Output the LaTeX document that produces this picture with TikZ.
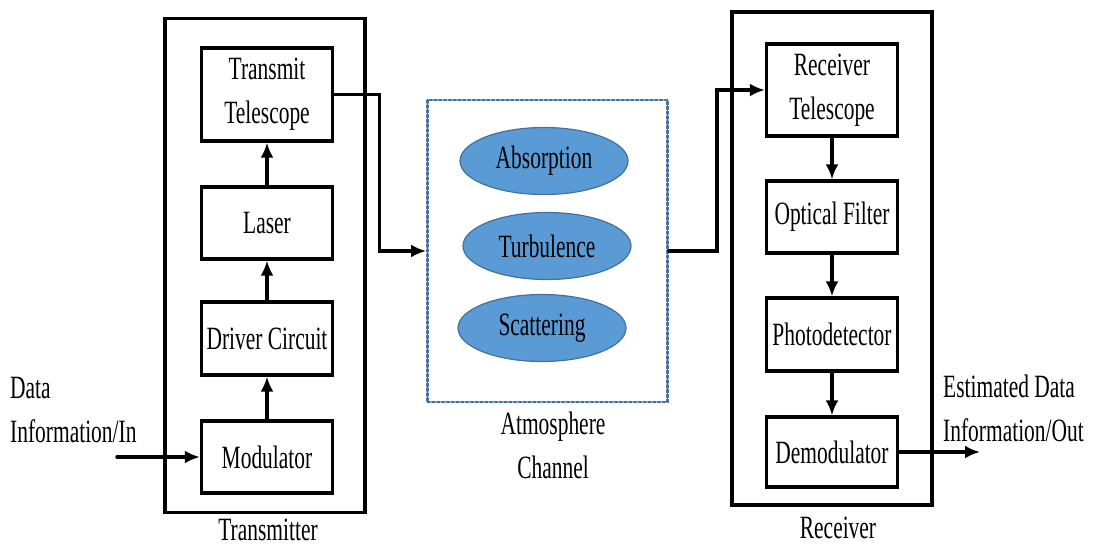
\documentclass[tikz,border=0pt]{standalone}
\usepackage{fontspec}
\setmainfont{Liberation Serif}[FakeStretch=0.66]
\usetikzlibrary{arrows.meta,shapes.geometric}
\definecolor{effectfill}{HTML}{5B9BD5}
\definecolor{effectedge}{HTML}{41719C}
\tikzset{
  block/.style={draw, line width=3.3pt, minimum width=131pt, minimum height=72pt, align=center, inner sep=2pt},
  frame/.style={draw, line width=3.3pt},
  effect/.style={ellipse, draw=effectedge, line width=1.2pt, fill=effectfill, minimum width=168pt, minimum height=67pt},
  caption/.style={align=left, inner sep=0pt}
}
\begin{document}
\begin{tikzpicture}[x=1pt, y=-1pt, line cap=round, >={Latex[length=15pt,width=13pt]},
  font=\fontsize{32.5}{44}\selectfont]
  \useasboundingbox (0,0) rectangle (1100,547);
  \node[frame, minimum width=200pt, minimum height=494pt] (tx) at (265,265.5) {};
  \node[frame, minimum width=200pt, minimum height=493pt] (rx) at (832,258.5) {};
  \node[draw=effectedge, line width=2.8pt, dash pattern=on 2.5pt off 2.3pt,
    minimum width=240pt, minimum height=302pt] (chan) at (547.5,251) {};
  \node[block, minimum height=93pt] (tel) at (267,94.5) {Transmit\\Telescope};
  \node[block] (laser) at (267,223) {Laser};
  \node[block, minimum height=73pt] (driver) at (267,338.5) {Driver Circuit};
  \node[block] (mod) at (267,457) {Modulator};
  \node[block, minimum height=92pt] (rtel) at (832,90) {Receiver\\Telescope};
  \node[block] (filter) at (832,217) {Optical Filter};
  \node[block, minimum height=73pt] (photo) at (832,334.5) {Photodetector};
  \node[block, minimum height=70pt] (demod) at (832,452) {Demodulator};
  \node[effect] (absorb) at (544,161) {Absorption};
  \node[effect] (turb) at (547,246) {Turbulence};
  \node[effect] (scatter) at (542,328) {Scattering};
  \node[caption] (txlabel) at (268,530) {Transmitter};
  \node[caption] (rxlabel) at (838,528) {Receiver};
  \node[align=center, inner sep=0pt] (chanlabel) at (553,445) {Atmosphere\\Channel};
  \node[caption, anchor=west] (inlabel) at (10,410) {Data\\Information/In};
  \node[caption, anchor=west] (outlabel) at (943,408) {Estimated Data\\Information/Out};
  \coordinate (in) at (117,457);
  \coordinate (out) at (980,452);
  \draw[line width=3.3pt, ->] (in) -- (mod.west);
  \draw[line width=3.3pt, ->] (mod.north) -- (driver.south);
  \draw[line width=3.3pt, ->] (driver.north) -- (laser.south);
  \draw[line width=3.3pt, ->] (laser.north) -- (tel.south);
  \draw[line width=3.3pt, ->] (tel.east) -- ++(45,0) |- (chan.west);
  \draw[line width=3.3pt, ->] (chan.east) -- ++(48,0) |- (rtel.west);
  \draw[line width=3.3pt, ->] (rtel.south) -- (filter.north);
  \draw[line width=3.3pt, ->] (filter.south) -- (photo.north);
  \draw[line width=3.3pt, ->] (photo.south) -- (demod.north);
  \draw[line width=3.3pt, ->] (demod.east) -- (out);
\end{tikzpicture}
\end{document}
